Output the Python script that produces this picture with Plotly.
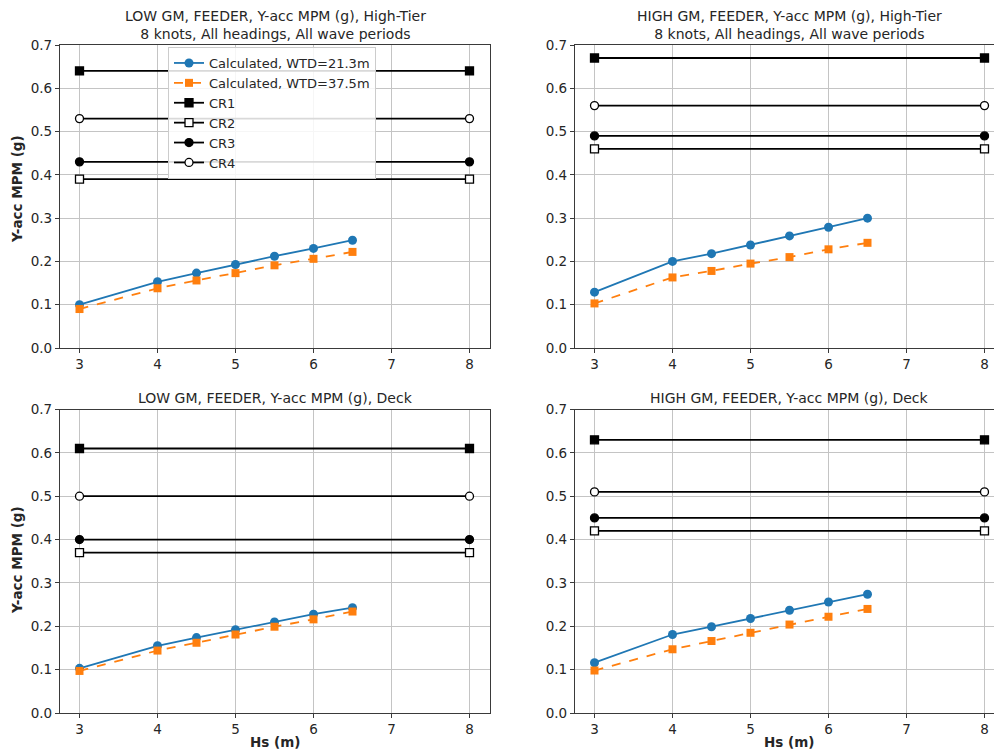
import plotly.graph_objects as go

# Hs values for the calculated series, and the span of the criteria lines
hs = [3, 4, 4.5, 5, 5.5, 6, 6.5]
cr_x = [3, 8]

# Y-acc MPM (g), calculated, per panel (WTD=21.3m and WTD=37.5m)
low_ht_213 = [0.100, 0.153, 0.173, 0.193, 0.212, 0.230, 0.249]
low_ht_375 = [0.090, 0.138, 0.156, 0.173, 0.191, 0.206, 0.222]
high_ht_213 = [0.129, 0.200, 0.218, 0.238, 0.259, 0.279, 0.300]
high_ht_375 = [0.103, 0.163, 0.178, 0.195, 0.210, 0.228, 0.243]
low_deck_213 = [0.103, 0.155, 0.174, 0.192, 0.210, 0.228, 0.243]
low_deck_375 = [0.097, 0.144, 0.162, 0.181, 0.199, 0.216, 0.234]
high_deck_213 = [0.116, 0.181, 0.199, 0.218, 0.237, 0.256, 0.274]
high_deck_375 = [0.098, 0.147, 0.166, 0.185, 0.204, 0.222, 0.240]

# criteria CR1..CR4 per panel
cr_names = ["CR1", "CR2", "CR3", "CR4"]
low_ht_cr = [0.64, 0.39, 0.43, 0.53]
high_ht_cr = [0.67, 0.46, 0.49, 0.56]
low_deck_cr = [0.61, 0.37, 0.40, 0.50]
high_deck_cr = [0.63, 0.42, 0.45, 0.51]

titles = [
    "LOW GM, FEEDER, Y-acc MPM (g), High-Tier<br>8 knots, All headings, All wave periods",
    "HIGH GM, FEEDER, Y-acc MPM (g), High-Tier<br>8 knots, All headings, All wave periods",
    "LOW GM, FEEDER, Y-acc MPM (g), Deck",
    "HIGH GM, FEEDER, Y-acc MPM (g), Deck",
]
y_title = "Y-acc MPM (g)"
x_title = "Hs (m)"

panels = [
    (low_ht_213, low_ht_375, low_ht_cr),
    (high_ht_213, high_ht_375, high_ht_cr),
    (low_deck_213, low_deck_375, low_deck_cr),
    (high_deck_213, high_deck_375, high_deck_cr),
]

W, H = 994, 753
FONT = "DejaVu Sans"
TXT = "#262626"

cr_symbols = ["square", "square-open", "circle", "circle-open"]


def px_x(x):
    return x / W


def px_y(y):
    return 1 - y / H


fig = go.Figure()

for i, (s1, s2, crs) in enumerate(panels):
    xa = "x" if i == 0 else "x%d" % (i + 1)
    ya = "y" if i == 0 else "y%d" % (i + 1)
    first = i == 0
    fig.add_trace(go.Scatter(
        x=hs, y=s1, xaxis=xa, yaxis=ya, mode="lines+markers",
        name="Calculated, WTD=21.3m", showlegend=first,
        line=dict(color="#1f77b4", width=1.8),
        marker=dict(symbol="circle", size=9, color="#1f77b4")))
    fig.add_trace(go.Scatter(
        x=hs, y=s2, xaxis=xa, yaxis=ya, mode="lines+markers",
        name="Calculated, WTD=37.5m", showlegend=first,
        line=dict(color="#ff7f0e", width=1.8, dash="dash"),
        marker=dict(symbol="square", size=8, color="#ff7f0e")))
    for name, val, sym in zip(cr_names, crs, cr_symbols):
        is_open = sym.endswith("-open")
        fig.add_trace(go.Scatter(
            x=cr_x, y=[val, val], xaxis=xa, yaxis=ya, mode="lines+markers",
            name=name, showlegend=first, cliponaxis=False,
            line=dict(color="black", width=1.8),
            marker=dict(symbol=sym.replace("-open", ""), size=8,
                        color="white" if is_open else "black",
                        line=dict(color="black", width=1.3))))

# axis geometry in reference pixels
px_per_unit = 78.0
x_doms = [(60, 490), (575, 1003.5), (60, 490), (575, 1003.5)]
y_doms = [(45, 348), (45, 348), (409.5, 713), (409.5, 713)]

axis_common = dict(
    showgrid=True, gridcolor="#c4c4c4", gridwidth=1,
    showline=True, linecolor="#3a3a3a", linewidth=1.2,
    ticks="outside", ticklen=4, tickcolor="#3a3a3a",
    tickfont=dict(family=FONT, size=13.5, color=TXT),
    zeroline=False, fixedrange=True, automargin=False,
)

layout = {}
for i in range(4):
    xk = "xaxis" if i == 0 else "xaxis%d" % (i + 1)
    yk = "yaxis" if i == 0 else "yaxis%d" % (i + 1)
    xa = "x" if i == 0 else "x%d" % (i + 1)
    ya = "y" if i == 0 else "y%d" % (i + 1)
    x0, x1 = x_doms[i]
    y0, y1 = y_doms[i]
    x1 = min(x1, W)  # right panels run off the edge of the picture
    layout[xk] = dict(axis_common,
                      domain=[px_x(x0), px_x(x1)],
                      range=[2.75, 2.75 + (x1 - x0) / px_per_unit],
                      tickvals=[3, 4, 5, 6, 7, 8],
                      mirror=True, anchor=ya)
    layout[yk] = dict(axis_common,
                      domain=[px_y(y1), px_y(y0)],
                      range=[0, 0.7], dtick=0.1, tickformat=".1f",
                      mirror=True, anchor=xa)

fig.update_layout(**layout)

annotations = []
centers = [(60 + 490) / 2, (575 + 1003.5) / 2]
for i, t in enumerate(titles):
    cx = centers[i % 2]
    ty = 25 if i < 2 else 398
    annotations.append(dict(
        text=t, x=px_x(cx), y=px_y(ty), xref="paper", yref="paper",
        showarrow=False, xanchor="center", yanchor="middle",
        font=dict(family=FONT, size=14, color=TXT)))
for cy in [189, 560]:
    annotations.append(dict(
        text="<b>%s</b>" % y_title, x=px_x(17), y=px_y(cy),
        xref="paper", yref="paper", showarrow=False, textangle=-90,
        xanchor="center", yanchor="middle",
        font=dict(family=FONT, size=13.5, color=TXT)))
for cx in centers:
    annotations.append(dict(
        text="<b>%s</b>" % x_title, x=px_x(cx), y=px_y(742),
        xref="paper", yref="paper", showarrow=False,
        xanchor="center", yanchor="middle",
        font=dict(family=FONT, size=13.5, color=TXT)))

fig.update_layout(
    width=W, height=H,
    margin=dict(l=0, r=0, t=0, b=0, pad=0),
    paper_bgcolor="white", plot_bgcolor="white",
    annotations=annotations,
    legend=dict(
        x=px_x(168), y=px_y(47), xanchor="left", yanchor="top",
        bgcolor="rgba(255,255,255,0.85)", bordercolor="#cccccc", borderwidth=1,
        font=dict(family=FONT, size=13, color=TXT),
        tracegroupgap=0, itemwidth=30,
    ),
)

# let the figure fill the window exactly (no default body margin), no modebar
fig.write_html(
    "out.html",
    config={"displayModeBar": False},
    post_script="document.body.style.margin='0';document.body.style.overflow='hidden';",
)
